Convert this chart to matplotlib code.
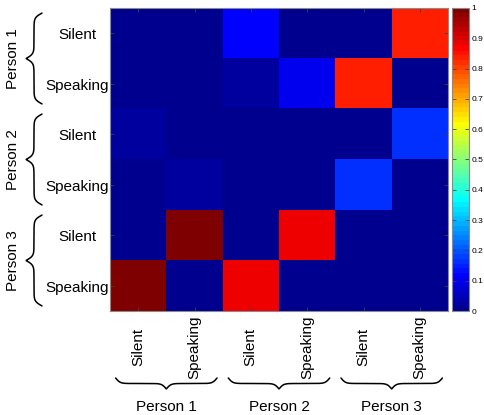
import numpy as np
import matplotlib
matplotlib.use('Agg')
import matplotlib.pyplot as plt
from matplotlib.colors import ListedColormap

plt.rcParams['font.family'] = ['Liberation Sans', 'DejaVu Sans']

# ---------------- data ----------------
states = ['Silent', 'Speaking']
persons = ['Person 1', 'Person 2', 'Person 3']
row_labels = states * 3
col_labels = states * 3
values = [
    [0.00, 0.00, 0.12, 0.00, 0.00, 0.84],
    [0.00, 0.00, 0.02, 0.10, 0.84, 0.00],
    [0.03, 0.00, 0.00, 0.00, 0.00, 0.16],
    [0.00, 0.02, 0.00, 0.00, 0.16, 0.00],
    [0.00, 0.99, 0.00, 0.89, 0.00, 0.00],
    [0.99, 0.00, 0.89, 0.00, 0.00, 0.00],
]
cbar_ticks = [0, 0.1, 0.2, 0.3, 0.4, 0.5, 0.6, 0.7, 0.8, 0.9, 1]
cbar_ticklabels = ['0', '0.1', '0.2', '0.3', '0.4', '0.5', '0.6', '0.7', '0.8', '0.9', '1']


def matlab_jet(n=64):
    m = n // 4
    u = np.concatenate([np.arange(1, m + 1) / m, np.ones(m - 1), np.arange(m, 0, -1) / m])
    g = int(np.ceil(m / 2)) - (1 if n % 4 == 1 else 0) + np.arange(1, len(u) + 1)
    r = g + m
    b = g - m
    J = np.zeros((n, 3))
    J[r[r <= n] - 1, 0] = u[r <= n]
    J[g[g <= n] - 1, 1] = u[g <= n]
    J[b[b >= 1] - 1, 2] = u[b >= 1]
    return ListedColormap(J)


W, H = 484, 415
fig = plt.figure(figsize=(W / 100, H / 100), dpi=100)
fig.patch.set_facecolor('white')

ax = fig.add_axes([110 / W, (H - 311) / H, 338 / W, 303 / H])
im = ax.imshow(np.array(values), cmap=matlab_jet(64), vmin=0, vmax=1,
               aspect='auto', interpolation='nearest')
ax.set_xticks(range(len(col_labels)))
ax.set_yticks(range(len(row_labels)))
ax.set_xticklabels([])
ax.set_yticklabels([])
ax.tick_params(direction='in', length=3, width=0.6, colors='#404040',
               top=True, right=True, bottom=True, left=True)
for s in ax.spines.values():
    s.set_edgecolor('#8a8a8a')
    s.set_linewidth(0.8)

cax = fig.add_axes([452 / W, (H - 311) / H, 17 / W, 303 / H])
cb = fig.colorbar(im, cax=cax)
cb.set_ticks(cbar_ticks)
cb.set_ticklabels(cbar_ticklabels)
cax.tick_params(direction='in', length=3, width=0.6, colors='#404040',
                left=True, right=True, labelsize=6, pad=2)
for lab in cax.get_yticklabels():
    lab.set_color('black')
cb.outline.set_edgecolor('#8a8a8a')
cb.outline.set_linewidth(0.8)

# overlay in pixel coordinates for labels and braces
ov = fig.add_axes([0, 0, 1, 1], zorder=-1)
ov.set_xlim(0, W)
ov.set_ylim(H, 0)
ov.axis('off')


def to_px(x, y):
    return ov.transData.inverted().transform(ax.transData.transform((x, y)))


def brace_profile(a, b, depth, beta=0.45, n=400):
    t = np.linspace(a, b, n)
    mid = (a + b) / 2
    tt = np.where(t <= mid, t, a + b - t)
    f = 1 / (1 + np.exp(-beta * (tt - a))) + 1 / (1 + np.exp(-beta * (tt - mid)))
    d = (f - 0.5) * depth
    return t, d


fs = 11
# left labels
for i, lab in enumerate(row_labels):
    _, py = to_px(0, i)
    ov.text(77, py + 2, lab, ha='center', va='center', fontsize=fs)
# bottom labels
for j, lab in enumerate(col_labels):
    px, _ = to_px(j, 0)
    ov.text(px, 347, lab, ha='center', va='center', rotation=90, fontsize=fs)

for g, person in enumerate(persons):
    lo = 2 * g - 0.5 + 0.1
    hi = 2 * g + 1.5 - 0.1
    # bottom brace
    xa, _ = to_px(lo, 0)
    xb, _ = to_px(hi, 0)
    t, d = brace_profile(xa, xb, 11)
    ov.plot(t, 378 + d, color='black', lw=1.1, solid_capstyle='round')
    xc, _ = to_px(2 * g + 0.5, 0)
    ov.text(xc, 407, person, ha='center', va='center', fontsize=fs)
    # left brace
    _, ya = to_px(0, lo)
    _, yb = to_px(0, hi)
    t, d = brace_profile(ya, yb, 16)
    ov.plot(42 - d, t, color='black', lw=1.1, solid_capstyle='round')
    _, yc = to_px(0, 2 * g + 0.5)
    ov.text(13, yc, person, ha='center', va='center', rotation=90, fontsize=fs)

fig.savefig('out.png', dpi=100)
